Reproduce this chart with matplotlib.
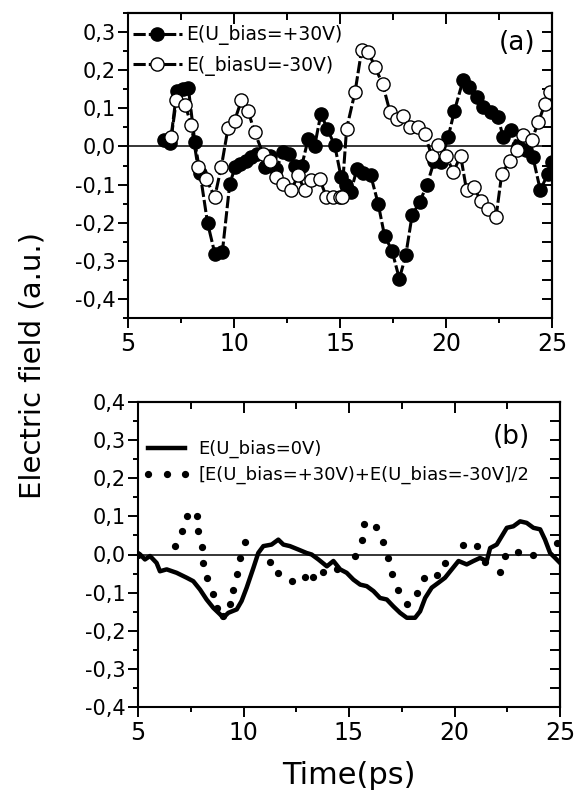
import matplotlib
matplotlib.use("Agg")
import matplotlib.pyplot as plt
from matplotlib.ticker import MultipleLocator, FuncFormatter

plt.rcParams["font.family"] = ["DejaVu Sans"]

# ---- panel (a): E(U_bias=+30V), filled circles
t_pos = [6.7, 7.0, 7.3, 7.6, 7.85, 8.15, 8.4, 8.75, 9.1, 9.45, 9.8, 10.05, 10.3,
         10.55, 10.8, 11.1, 11.45, 11.7, 12.0, 12.3, 12.6, 12.9, 13.2, 13.5, 13.8,
         14.1, 14.4, 14.75, 15.05, 15.3, 15.5, 15.8, 16.1, 16.45, 16.8, 17.1, 17.45,
         17.8, 18.1, 18.4, 18.75, 19.1, 19.45, 19.75, 20.1, 20.4, 20.8, 21.1, 21.45,
         21.75, 22.1, 22.45, 22.7, 23.05, 23.4, 23.75, 24.1, 24.45, 24.8, 25.0]
e_pos = [0.017, 0.01, 0.145, 0.15, 0.152, 0.012, -0.07, -0.2, -0.282, -0.277,
         -0.098, -0.055, -0.045, -0.037, -0.028, -0.02, -0.055, -0.025, -0.06,
         -0.015, -0.02, -0.05, -0.05, 0.02, 0.0, 0.086, 0.046, 0.003, -0.08, -0.1,
         -0.12, -0.06, -0.07, -0.076, -0.15, -0.234, -0.273, -0.347, -0.286, -0.181,
         -0.146, -0.102, -0.037, -0.04, 0.024, 0.094, 0.173, 0.156, 0.129, 0.103,
         0.09, 0.077, 0.024, 0.042, 0.0, -0.01, -0.028, -0.115, -0.072, -0.04]

# ---- panel (a): E(U_bias=-30V), open circles
t_neg = [7.04, 7.28, 7.7, 7.99, 8.3, 8.69, 9.09, 9.4, 9.72, 10.03, 10.35, 10.66,
         10.97, 11.37, 11.68, 12.0, 12.31, 12.7, 13.02, 13.33, 13.65, 14.04, 14.36,
         14.67, 14.98, 15.08, 15.31, 15.71, 16.02, 16.34, 16.65, 17.01, 17.36, 17.67,
         17.99, 18.3, 18.7, 19.0, 19.32, 19.64, 20.0, 20.35, 20.69, 20.97, 21.32,
         21.63, 21.99, 22.36, 22.63, 23.02, 23.33, 23.65, 24.04, 24.36, 24.67, 24.9]
e_neg = [0.024, 0.121, 0.108, 0.055, -0.054, -0.085, -0.133, -0.054, 0.049, 0.068,
         0.121, 0.094, 0.038, -0.019, -0.037, -0.08, -0.098, -0.115, -0.076, -0.115,
         -0.089, -0.085, -0.133, -0.133, -0.133, -0.133, 0.046, 0.143, 0.252, 0.248,
         0.208, 0.164, 0.09, 0.073, 0.081, 0.051, 0.051, 0.033, -0.024, 0.003,
         -0.024, -0.067, -0.024, -0.115, -0.107, -0.142, -0.164, -0.185, -0.072,
         -0.037, -0.01, 0.029, 0.016, 0.064, 0.112, 0.143]

# ---- panel (b): E(U_bias=0V), solid line
t_zero = [5.0, 5.1, 5.33, 5.57, 5.88, 6.04, 6.36, 6.83, 7.31, 7.62, 7.94, 8.25, 8.57,
          8.89, 9.04, 9.28, 9.68, 9.91, 10.15, 10.47, 10.7, 10.94, 11.33, 11.65,
          11.89, 12.2, 12.6, 12.99, 13.23, 13.55, 13.95, 14.26, 14.58, 14.89, 15.21,
          15.53, 15.84, 16.16, 16.47, 16.79, 17.1, 17.42, 17.74, 18.13, 18.37, 18.61,
          18.92, 19.24, 19.55, 19.87, 20.19, 20.58, 20.9, 21.21, 21.53, 21.69, 22.0,
          22.24, 22.48, 22.79, 23.11, 23.42, 23.74, 24.06, 24.29, 24.53, 24.77, 25.0]
e_zero = [0.004, 0.0, -0.013, -0.004, -0.022, -0.044, -0.039, -0.048, -0.061, -0.07,
          -0.092, -0.118, -0.14, -0.157, -0.166, -0.153, -0.144, -0.122, -0.087,
          -0.035, 0.004, 0.022, 0.026, 0.039, 0.026, 0.022, 0.013, 0.004, 0.0,
          -0.013, -0.031, -0.017, -0.039, -0.048, -0.066, -0.079, -0.083, -0.096,
          -0.114, -0.118, -0.136, -0.153, -0.166, -0.166, -0.149, -0.114, -0.087,
          -0.074, -0.061, -0.039, -0.017, -0.026, -0.017, -0.009, -0.017, 0.017,
          0.026, 0.048, 0.07, 0.074, 0.087, 0.083, 0.07, 0.066, 0.039, 0.004,
          -0.009, -0.022]

# ---- panel (b): [E(+30V)+E(-30V)]/2, dots
t_avg = [5.0, 6.75, 7.07, 7.31, 7.78, 7.86, 8.02, 8.1, 8.29, 8.54, 8.73, 9.04, 9.36,
         9.52, 9.68, 9.83, 10.07, 11.26, 11.65, 12.28, 12.91, 13.28, 13.78, 14.42,
         15.29, 15.6, 15.72, 16.28, 16.63, 16.87, 17.03, 17.34, 17.77, 18.24, 18.57,
         19.19, 19.55, 20.42, 21.05, 21.45, 22.16, 22.4, 23.03, 23.74, 24.85]
e_avg = [0.0, 0.022, 0.061, 0.101, 0.101, 0.061, 0.019, -0.022, -0.061, -0.103,
         -0.14, -0.162, -0.131, -0.092, -0.051, -0.009, 0.033, -0.02, -0.048, -0.07,
         -0.059, -0.059, -0.045, -0.039, -0.004, 0.037, 0.079, 0.072, 0.033, -0.009,
         -0.051, -0.092, -0.131, -0.101, -0.061, -0.054, -0.021, 0.026, 0.022,
         -0.019, -0.045, -0.004, 0.006, 0.0, 0.031]

x_ticks = [5, 10, 15, 20, 25]
labels_a = ["E(U_bias=+30V)", "E(_biasU=-30V)"]
labels_b = ["E(U_bias=0V)", "[E(U_bias=+30V)+E(U_bias=-30V]/2"]

W, H = 581, 794
fig = plt.figure(figsize=(W / 100, H / 100), dpi=100)
fig.patch.set_facecolor("white")


def comma_fmt(v, _pos):
    return f"{v:.1f}".replace(".", ",").replace("\u2212", "-")


def style_axes(ax, ylim):
    ax.set_xlim(5, 25)
    ax.set_ylim(*ylim)
    ax.xaxis.set_major_locator(MultipleLocator(5))
    ax.xaxis.set_minor_locator(MultipleLocator(2.5))
    ax.yaxis.set_major_locator(MultipleLocator(0.1))
    ax.yaxis.set_minor_locator(MultipleLocator(0.05))
    ax.yaxis.set_major_formatter(FuncFormatter(comma_fmt))
    ax.set_xticks(x_ticks)
    for s in ax.spines.values():
        s.set_linewidth(1.5)
    ax.tick_params(which="major", direction="out", length=7, width=1.4)
    ax.tick_params(which="minor", direction="out", length=3.5, width=1.4)
    ax.tick_params(axis="y", labelsize=15, pad=2)
    ax.tick_params(axis="x", labelsize=17, pad=3)
    ax.axhline(0, color="black", lw=1.1, zorder=1)

    # mirrored ticks on top/right, pointing inward, no labels
    top = ax.secondary_xaxis("top")
    top.xaxis.set_major_locator(MultipleLocator(5))
    top.xaxis.set_minor_locator(MultipleLocator(2.5))
    top.tick_params(which="major", direction="in", length=8, width=1.4, labeltop=False)
    top.tick_params(which="minor", direction="in", length=5, width=1.4)
    top.spines["top"].set_linewidth(1.5)
    right = ax.secondary_yaxis("right")
    right.yaxis.set_major_locator(MultipleLocator(0.1))
    right.yaxis.set_minor_locator(MultipleLocator(0.05))
    right.tick_params(which="major", direction="in", length=7, width=1.4, labelright=False)
    right.tick_params(which="minor", direction="in", length=7, width=1.4)
    right.spines["right"].set_linewidth(1.5)


# panel (a)
ax1 = fig.add_axes([128 / W, 1 - 318 / H, (552 - 128) / W, (318 - 13) / H])
style_axes(ax1, (-0.45, 0.35))
ax1.plot(t_pos, e_pos, color="black", lw=2.2, ls=(0, (4, 1)),
         marker="o", ms=9.5, mfc="black", mec="black", mew=1, label=labels_a[0])
ax1.plot(t_neg, e_neg, color="black", lw=2.2, ls=(0, (4, 1)),
         marker="o", ms=9.5, mfc="white", mec="black", mew=1, label=labels_a[1])
ax1.legend(loc="upper left", bbox_to_anchor=(0.012, 0.96), frameon=False,
           fontsize=13.5, handlelength=2.6, handletextpad=0.25, labelspacing=0.55,
           borderpad=0, borderaxespad=0)
ax1.text(0.96, 0.90, "(a)", transform=ax1.transAxes, ha="right", va="center",
         fontsize=19)

# panel (b)
ax2 = fig.add_axes([138 / W, 1 - 707 / H, (560 - 138) / W, (707 - 402) / H])
style_axes(ax2, (-0.4, 0.4))
ax2.plot(t_zero, e_zero, color="black", lw=3.2, solid_joinstyle="round",
         label=labels_b[0])
ax2.plot(t_avg, e_avg, ls="none", marker="o", ms=4.2, color="black",
         label=labels_b[1])
ax2.legend(loc="upper left", bbox_to_anchor=(0.012, 0.875), frameon=False,
           fontsize=13, handlelength=2.6, handletextpad=0.45, labelspacing=0.42,
           borderpad=0, borderaxespad=0, numpoints=3)
ax2.text(0.885, 0.885, "(b)", transform=ax2.transAxes, ha="center", va="center",
         fontsize=19)

fig.text(33 / W, 1 - 365 / H, "Electric field (a.u.)", rotation=90,
         ha="center", va="center", fontsize=21)
fig.text(349 / W, 1 - 775 / H, "Time(ps)", ha="center", va="center", fontsize=22)

fig.savefig("out.png", dpi=100)
